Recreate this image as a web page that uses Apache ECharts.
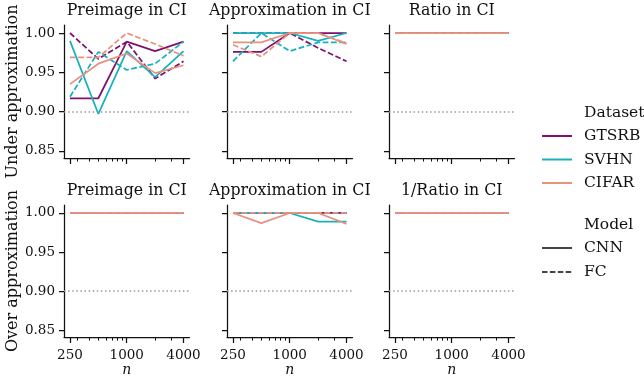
<!DOCTYPE html>
<html>
<head>
<meta charset="utf-8">
<script src="https://cdn.jsdelivr.net/npm/echarts@6/dist/echarts.min.js"></script>
<style>html,body{margin:0;padding:0;background:#fff}#c{width:644px;height:378px}</style>
</head>
<body>
<div id="c"></div>
<script>
// ---------- data ----------
const nValues = [250, 500, 1000, 2000, 4000];
const datasets = ['GTSRB', 'SVHN', 'CIFAR'];
const models = ['CNN', 'FC'];
const majorTicksX = [250, 1000, 4000];
const minorTicksX = [300, 400, 500, 600, 700, 800, 900, 2000, 3000];
const ticksY = [0.85, 0.90, 0.95, 1.00];
const refLevel = 0.90;
const rowLabels = ['Under approximation', 'Over approximation'];
const topTitles = ['Preimage in CI', 'Approximation in CI', 'Ratio in CI'];
const bottomTitles = ['Preimage in CI', 'Approximation in CI', '1/Ratio in CI'];

// rows: GTSRB CNN, GTSRB FC, SVHN CNN, SVHN FC, CIFAR CNN, CIFAR FC
const underPreimage = [
  [0.917, 0.917, 0.989, 0.977, 0.989],
  [1.000, 0.967, 0.989, 0.942, 0.964],
  [0.990, 0.897, 0.977, 0.944, 0.977],
  [0.919, 0.976, 0.953, 0.961, 0.989],
  [0.935, 0.961, 0.974, 0.949, 0.959],
  [0.969, 0.969, 1.000, 0.986, 0.971]
];
const underApprox = [
  [0.976, 0.976, 1.000, 1.000, 1.000],
  [1.000, 1.000, 1.000, 0.981, 0.964],
  [1.000, 1.000, 1.000, 0.990, 1.000],
  [0.964, 1.000, 0.977, 0.988, 0.988],
  [0.988, 0.988, 1.000, 1.000, 0.986],
  [0.985, 0.970, 1.000, 1.000, 0.987]
];
const underRatio = [
  [1, 1, 1, 1, 1], [1, 1, 1, 1, 1], [1, 1, 1, 1, 1],
  [1, 1, 1, 1, 1], [1, 1, 1, 1, 1], [1, 1, 1, 1, 1]
];
const overPreimage = [
  [1, 1, 1, 1, 1], [1, 1, 1, 1, 1], [1, 1, 1, 1, 1],
  [1, 1, 1, 1, 1], [1, 1, 1, 1, 1], [1, 1, 1, 1, 1]
];
const overApprox = [
  [1, 1, 1, 1, 1],
  [1, 1, 1, 1, 1],
  [1.000, 1.000, 1.000, 0.989, 0.989],
  [1, 1, 1, 1, 1],
  [1.000, 0.987, 1.000, 1.000, 0.986],
  [1, 1, 1, 1, 1]
];
const overInvRatio = [
  [1, 1, 1, 1, 1], [1, 1, 1, 1, 1], [1, 1, 1, 1, 1],
  [1, 1, 1, 1, 1], [1, 1, 1, 1, 1], [1, 1, 1, 1, 1]
];
const panels = [underPreimage, underApprox, underRatio, overPreimage, overApprox, overInvRatio];

// ---------- styles ----------
const colors = { GTSRB: '#7f1170', SVHN: '#17b1bd', CIFAR: '#e8917d' };
const dashFC = [5.8, 2.5];
const FONT = '"DejaVu Serif", "Liberation Serif", serif';
const lefts = [64, 227, 389];
const tops = [25, 205];
const GW = 125.5, GH = 133;
const xMin = 216, xMax = 4630, yMin = 0.841, yMax = 1.0102;

const grid = [], xAxis = [], yAxis = [], series = [], graphic = [];

for (let r = 0; r < 2; r++) {
  for (let c = 0; c < 3; c++) {
    const i = r * 3 + c;
    grid.push({ left: lefts[c], top: tops[r], width: GW, height: GH, containLabel: false });
    xAxis.push({
      type: 'log', logBase: 10, gridIndex: i, min: xMin, max: xMax, position: 'bottom',
      axisLine: { show: true, onZero: false, lineStyle: { color: '#111', width: 1.25 } },
      axisTick: { show: true, customValues: majorTicksX, length: 6, lineStyle: { color: '#111', width: 1.25 } },
      axisLabel: { show: r === 1, customValues: majorTicksX, formatter: v => String(Math.round(v)),
        margin: 11, color: '#111', fontFamily: FONT, fontSize: 13.5 },
      splitLine: { show: false }, minorTick: { show: false },
      name: r === 1 ? 'n' : '', nameLocation: 'middle', nameGap: 24,
      nameTextStyle: { fontFamily: FONT, fontStyle: 'italic', fontSize: 14, color: '#111' }
    });
    xAxis.push({
      type: 'log', logBase: 10, gridIndex: i, min: xMin, max: xMax, position: 'bottom',
      axisLine: { show: false },
      axisTick: { show: true, customValues: minorTicksX, length: 3.5, lineStyle: { color: '#111', width: 1 } },
      axisLabel: { show: false }, splitLine: { show: false }
    });
    yAxis.push({
      type: 'value', gridIndex: i, min: yMin, max: yMax,
      axisLine: { show: true, onZero: false, lineStyle: { color: '#111', width: 1.25 } },
      axisTick: { show: true, customValues: ticksY, length: 5, lineStyle: { color: '#111', width: 1.25 } },
      axisLabel: { show: c === 0, customValues: ticksY, formatter: v => v.toFixed(2),
        margin: 9, color: '#111', fontFamily: FONT, fontSize: 13.5 },
      splitLine: { show: false },
      name: c === 0 ? rowLabels[r] : '', nameLocation: 'middle', nameGap: 41.5,
      nameTextStyle: { fontFamily: FONT, fontSize: 16, color: '#111' }
    });
    // reference line
    series.push({
      type: 'line', xAxisIndex: 2 * i, yAxisIndex: i, data: [], silent: true,
      markLine: { silent: true, symbol: 'none', animation: false, label: { show: false },
        lineStyle: { color: '#999', type: [1.5, 2.6], width: 1.5 },
        data: [{ yAxis: refLevel }] }
    });
    const vals = panels[i];
    let k = 0;
    datasets.forEach(ds => {
      models.forEach(m => {
        const row = vals[k++];
        series.push({
          type: 'line', name: ds + ' ' + m, xAxisIndex: 2 * i, yAxisIndex: i,
          data: nValues.map((n, j) => [n, row[j]]),
          showSymbol: false, symbol: 'none', silent: true, clip: false,
          lineStyle: { color: colors[ds], width: 1.75, type: m === 'FC' ? dashFC : 'solid' }
        });
      });
    });
    const titles = r === 0 ? topTitles : bottomTitles;
    graphic.push({
      type: 'text', x: lefts[c] + GW / 2, y: tops[r] - 14,
      style: { text: titles[c], font: '15.8px ' + FONT, fill: '#111', align: 'center', verticalAlign: 'middle' }
    });
  }
}

// legend
const legX = 542, legTextX = 584, LF = '15.5px ' + FONT;
graphic.push({ type: 'text', x: legTextX, y: 113,
  style: { text: 'Dataset', font: LF, fill: '#111', align: 'left', verticalAlign: 'middle' } });
datasets.forEach((ds, j) => {
  const y = 136 + j * 23.5;
  graphic.push({ type: 'line', shape: { x1: legX, y1: y, x2: legX + 30, y2: y },
    style: { stroke: colors[ds], lineWidth: 2 } });
  graphic.push({ type: 'text', x: legTextX, y: y,
    style: { text: ds, font: LF, fill: '#111', align: 'left', verticalAlign: 'middle' } });
});
graphic.push({ type: 'text', x: legTextX, y: 225,
  style: { text: 'Model', font: LF, fill: '#111', align: 'left', verticalAlign: 'middle' } });
models.forEach((m, j) => {
  const y = 248 + j * 24;
  graphic.push({ type: 'line', shape: { x1: legX, y1: y, x2: legX + 30, y2: y },
    style: { stroke: '#444', lineWidth: 2, lineDash: m === 'FC' ? [5.5, 2.4] : null } });
  graphic.push({ type: 'text', x: legTextX, y: y,
    style: { text: m, font: LF, fill: '#111', align: 'left', verticalAlign: 'middle' } });
});

const chart = echarts.init(document.getElementById('c'), null, { renderer: 'canvas' });
chart.setOption({
  animation: false, backgroundColor: '#fff',
  grid, xAxis, yAxis, series, graphic
});
</script>
</body>
</html>
